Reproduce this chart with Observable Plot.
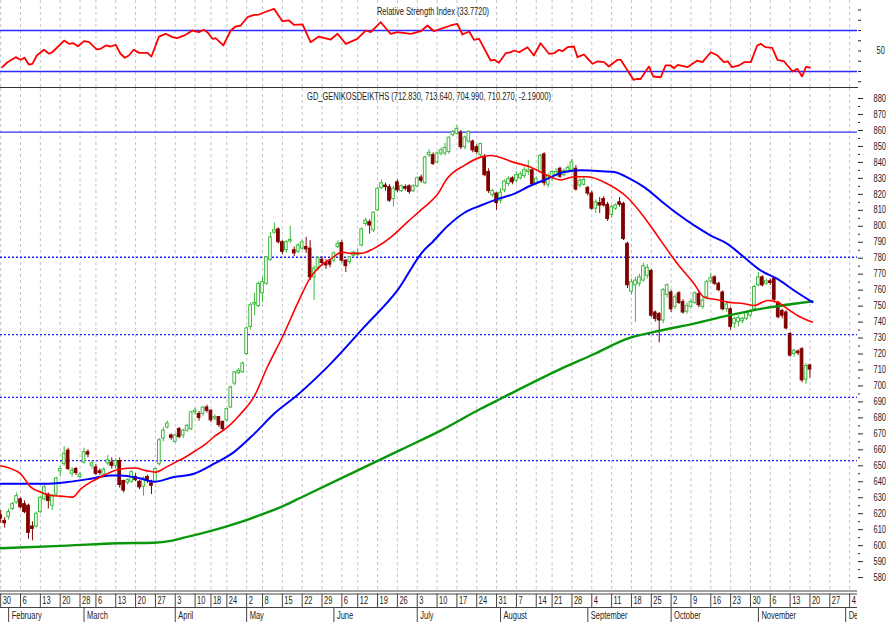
<!DOCTYPE html>
<html><head><meta charset="utf-8">
<script src="https://cdn.jsdelivr.net/npm/d3@7"></script>
<script src="https://cdn.jsdelivr.net/npm/@observablehq/plot@0.6"></script>
<style>
html,body{margin:0;padding:0;background:#fff;}
#chart{width:890px;}
#chart svg{display:block;}
</style></head><body><div id="chart"></div>
<script>
// ---------- data ----------
const rsiTitle = "Relative Strength Index (33.7720)";
const mainTitle = "GD_GENIKOSDEIKTHS (712.830, 713.640, 704.990, 710.270, -2.19000)";

// week ticks (trading-day index) and labels
const weekIdx = [0,5,10,15,20,24,29,34,39,44,49,53,57,62,66,71,76,81,86,90,95,100,105,110,115,120,125,130,135,139,144,149,154,159,164,169,174,179,184,189,194,199,204,209,214];
const weekLbl = ["30","6","13","20","28","6","13","20","27","3","10","18","24","2","8","15","22","29","6","12","19","26","3","10","17","24","31","7","14","21","28","4","11","18","25","2","9","16","23","30","6","13","20","27","4"];
const monthIdx = [2,21,44,62,84,105,126,148,169,191,213];
const monthLbl = ["February","March","April","May","June","July","August","September","October","November","December"];

// daily candles
const open = [
619,615.5,618,623,627,629,626,625,612,612,
621,629,632,625,632,646.5,651,659.5,645,648,
643,652,658.5,650,649,646.5,644.5,651.5,652,650,
653,640.5,639.5,640,643,640,637,643,639,640,
651,667,674,669,665,673,669,672,673,683.5,
682.5,682.5,686.5,684.5,679.5,680.5,677.5,678.5,686.5,701.5,
708,708.5,720,737,751,750,758,764,779,796,
798,790,785,790.5,785,784,786,787,786,768,
774,779,777,778,778.5,787,789.5,778.5,777.5,781.5,
782,788,801.5,802.5,797.5,810,824,825.5,824.5,817,
827.5,822,824.5,825,822,825,830.5,827,844.5,844.5,
840,845.5,845.5,846.5,857,858,858.5,849.5,853,853,
849.5,844.5,843.5,834,819.5,820.5,816,822.5,826.5,830,
828.5,830,831.5,834,835,827,834,845,826,830,
832,836,832,834,835,836,825.5,826,824,820.5,
811,814.5,817,813.5,807,811,815,814,789,759,
763,764,766,769,772,746,745,741,757,758.5,
749.5,758,752.5,746.5,749.5,752,757.5,749.5,755.5,765.5,
768,764,758.5,748,748,739,740,740.5,742,744,
748,763,768,764,765.5,767,751.5,747,746,732.5,
720,721.5,723,704,712.83];
const high = [
622,617.5,623,627,633,630,628,626,615,621,
631,638,633,632,643,650,662,661,649,649,
646,661,660,653,651,648,649,656.5,655,654.5,
655,641,642,647,645,641,643,644,641,649,
667,674,678,670,670,674,673,676,684,686,
684,687,688,685,682,681,678,686,700,709,
711,715,737,752,758,765,768,781,796,802,
799,791,791,800,787,789,791,793,791,775,
781,781,779,779,784,791,791,779,781,784.5,
786,799,805,804,809,824,829,827,826,825,
829,826,826,826,826,831,832,844,848,846,
846.5,849,852,856,860,863,860,856.5,860,854,
851,852,845,836,823,821,823.5,829,831,831,
834,834,837,841,836,831,845,846,833,835,
836,837,836,838,842,838,830,831,825,822,
816.5,818,818.5,815,813,814,818,815,790,767,
768,770,777,776,773,747,746,761,764,760,
757,759,754,752,754,759,759,755,766,770.5,
769,765,759.5,752,749,743,744,743,747,748,
763,771,769,767,767,768,753,748,747,733.5,
723,722.5,724,714,713.64];
const low = [
614,611,616,622,626,623,620,604,603,611,
620,628,623,622,631,643,650,647,643,644,
642,651,655,648,644,644,643,650,648,648,
636,633,638,639,640,635,631,639,632,639,
650,665,673,666,664,667,667,671,672,682,
678,681,683,677,678,674,672,677,686,700,
707,708,719,735,744,749,752,763,778,795,
789,782,783,789,781,783,785,783,766,753.5,
772,775,773,774,777,786,777,771,776,780,
781,787,800,795,796,809,823,822,815,812,
821,821,822,820,821,824,827,826,843,838,
839,844,844,845,856,857,848,848,852,846,
845,843,831,820.5,818,810,814,821,825,826,
827,829,830,832,825,826,833,825,824,828,
831,830,831,833,834,822,824,825,819,810,
808,808,812,803,805,810,812,791,761,757,
740,762,765,767,743,740,727,739,755,746,
748,751,745,745,748,751,749,748,754,764,
763,759,747,746,735,736,737,739,741,743,
747,762,762,763,763,752,742,742,735,718,
718,719,702,701,704.99];
const close = [
617,614,621,626,631,624,621,608,610.5,620,
630,636.5,628,631.5,642,648,657.5,648,647,645.5,
644.5,658.5,657,651.5,645,645.5,647.5,653.5,650,653,
638,634.5,641,646,641,636.5,642,641,637.5,648,
666,672,676.5,667.5,669,668,672,675,683.5,684.5,
680,686.5,684.5,678.5,680.5,675.5,673,685.5,699,708.5,
709.5,714,736,750.5,752,764,765,780.5,793,797.5,
790,784,790,791.5,783,788,790,785.5,768,773.5,
780,777,775.5,776,783,789,778.5,775,780.5,783.5,
783,798,803.5,800.5,808.5,823.5,827,824.5,816,823.5,
822.5,825,823.5,821.5,825,830,828.5,843,846,839,
845.5,847.5,849,855.5,859,861,849.5,855.5,859,847.5,
846.5,851.5,832,822,822,814.5,821,828,829.5,827.5,
832,832.5,835,835,826.5,829.5,844,827,831.5,834,
834,831,834.5,836.5,840,823,828.5,829,820.5,811,
815,813,813,804.5,812,813,813.5,792,763,765,
766,768,775,774,744,742,741,760,763,748,
755.5,752,746,750,752.5,758,750.5,753.5,765,767.5,
764,760,748,751,737,742,742.5,742,746,747,
762,768,763,765.5,764.5,754,743,744,736,719,
722,720.5,703.5,712.46,710.27];

// moving averages (trading-day index, value)
const redDays = [0,5,7.6,10.1,12.6,15.1,18.1,20.2,22.7,25.2,27.7,30.2,34,36.6,39.1,41.6,44.1,46.6,49.2,51.7,54.2,57.1,60.5,63.8,67.2,71.4,74.8,78.1,80.7,83.2,86.1,88.2,90.7,94,98.3,102.5,106.3,110.1,112.6,116.8,121,123.5,129.4,133.6,137.8,141.2,144.5,147.9,152.9,158,162.2,166.4,170.6,174.8,177.3,180.7,183.2,187.4,189.9,193.3,195.8,198.3,201.7,204.6];
const redMA = [650,645,636.7,633.5,631.4,631,630.4,635.6,639.8,643,646,648,648.6,647,646,649,652.3,655.5,659.6,663.8,669,674,682.6,693,711.7,732.7,751.5,768,775.4,779.6,783.8,783,783,786,793,802.6,811,820,830,838,843.3,844.3,840,837,831.8,829,831,831,826.6,818,805.7,791,776.5,764,755.6,754,752.5,751.5,750.4,753.5,752.5,748.3,743,740];
const blueDays = [0,10.9,16.8,22.7,27.7,30.2,35.3,38.6,43.7,48.7,53.8,58.8,63.9,68.9,75.1,83.2,91.6,100,106.7,108.4,112.6,116.8,121,125.2,129.4,133.6,137.8,142,146.2,150.4,154.6,158.8,162.2,166.4,170.6,174.8,179,183.2,187.4,191.6,195.8,200,204.6];
const blueMA = [638.7,638.7,639.8,641.9,644,644,642,640,643,645,651.3,658.6,670,682.6,695,714,736.8,759.8,785,789,800,808.3,813,817,820.3,825.5,829.7,834,835,834.6,834,829.5,824.5,816,807.8,800.5,794.2,789,780.6,772.3,767,759.8,752.5];
const greenDays = [0,16.8,29.4,38.6,42.9,46.2,50.4,54.6,58.8,63,67.2,71.4,75.6,88.2,100.8,110.9,121,126,141.2,149.6,158,166.4,174.8,183.2,191.6,200,204.6];
const greenMA = [598.4,600,601.5,601.8,603,605,607.5,610.3,613.5,617,620.8,625,630,645,660,672,685.7,692,710.7,720,729.6,734.7,739,744,748.3,751.5,753];

// horizontal levels
const peakLevel = [858.9];
const levels = [780.6,732.2,692.9,653.3];

// RSI
const rsiDays = [0.4,1.7,3.8,5.0,6.0,7.1,8.0,9.1,10.9,12.2,13.0,16.0,17.2,18.3,19.5,21.0,22.3,24.2,25.2,26.5,27.7,29.0,30.2,31.3,32.3,33.5,34.9,37.0,38.0,39.9,41.6,43.3,44.5,46.6,48.3,50.0,51.2,52.1,53.4,54.2,56.1,58.0,59.2,60.5,62.2,63.9,65.1,67.2,68.9,71.0,72.7,73.9,76.1,78.1,80.2,83.2,84.9,87.0,89.9,92.0,93.3,95.8,98.3,100.0,103.4,105.9,107.6,109.2,110.9,113.4,115.1,116.4,118.1,119.3,120.6,123.5,124.4,125.6,127.3,128.6,129.4,130.7,132.8,134.4,136.1,138.2,139.5,140.7,141.6,142.9,144.5,145.4,147.0,149.2,150.4,152.1,153.3,155.5,156.3,159.5,160.5,161.3,163.4,164.5,166.4,167.6,168.9,169.7,170.7,173.1,175.6,176.9,179.0,180.7,182.3,183.3,184.4,186.1,187.4,189.1,190.7,191.6,192.8,194.5,195.8,197.5,199.6,200.8,202,203,204];
const rsiVals = [34.2,39,44,41.4,43.4,36.8,37.5,45.6,51.2,47.3,48.8,60.2,57,57.6,54.7,59.6,58.6,51.5,52.1,55.4,54.4,56,47.3,43.4,45.6,51.2,48.2,48.2,44.6,64.1,66.8,63.5,62.5,65.8,70,68.4,70.7,68.4,61.9,62.5,55.4,70,73.9,74.9,83,85.3,85.6,88.8,91.2,79.1,79.8,75.6,75.9,58.6,64.1,61.2,66.8,57,61.9,70,68.4,78.1,66.8,68.4,66.8,69.3,74.9,69.3,71.7,74.9,76.5,66.1,69,60.9,61.9,40.7,41.4,38.5,47.9,48.8,50.5,48.8,53.7,45.6,57.6,47.3,47.9,51.2,49.8,53.7,54.4,44,46.6,37.5,39.8,39.1,34.9,41.4,41.4,21.9,22.9,22.6,34.9,25.1,24.4,35.9,35.9,33.2,36.5,34.2,40.7,39.1,48.8,45.6,39.1,39.8,34.2,35.9,39.1,39.1,55.4,57,53.7,53.1,41.4,39.8,30,32.6,25.1,34.5,33.77];
const rsiBands = [70,30];
const rsiTicks = [20,30,40,50,60,70,80,90];

// ---------- chart ----------
const FONT = "'Liberation Sans Narrow','Arial Narrow','Liberation Sans',Arial,sans-serif";
const X = {type:"linear", domain:[0,215], range:[0.2,853.1], axis:null};
const common = {width:890, marginLeft:0, marginRight:33, marginTop:0,
  style:{fontFamily:FONT, fontSize:"10px", color:"#222", background:"#fff"}};
const GRID = {stroke:"#c4c4c4", strokeDasharray:"3,3", strokeWidth:1};
const UP = "#3cb93c", DN = "#800000";

const candles = open.map((o,i)=>({i, o, h:high[i], l:low[i], c:close[i]}));
const up = candles.filter(d=>d.c>=d.o);
const dn = candles.filter(d=>d.c<d.o);
const HW = 0.34;

const rsiPlot = Plot.plot({
  ...common, height:88, marginBottom:1,
  x: X,
  y: {domain:[13.4,99.3], range:[88,0], axis:null},
  marks:[
    Plot.ruleX(weekIdx, GRID),
    Plot.ruleY(rsiBands, {stroke:"#2b2bff", strokeWidth:1.3}),
    Plot.line(d3.zip(rsiDays, rsiVals), {stroke:"#ff0000", strokeWidth:1.8}),
    Plot.text([rsiTitle], {text:d=>d, frameAnchor:"top", dy:7, dx:4, fill:"#222"}),
    Plot.axisY({anchor:"right", ticks:rsiTicks, tickSize:3, tickPadding:16, tickFormat:d=>d===50?"50":""}),
    Plot.frame({anchor:"bottom", stroke:"#333", strokeWidth:1.2})
  ]
});

const mainPlot = Plot.plot({
  ...common, height:502, marginBottom:0,
  x: X,
  y: {domain:[580,880], range:[489.1,10], axis:null},
  marks:[
    Plot.ruleX(weekIdx, GRID),
    Plot.ruleY(peakLevel, {stroke:"#3030ff", strokeWidth:1.3}),
    Plot.ruleY(levels, {stroke:"#2020ff", strokeWidth:1.3, strokeDasharray:"2,2"}),
    Plot.ruleX(up, {x:"i", y1:"l", y2:"h", stroke:UP}),
    Plot.rect(up, {x1:d=>d.i-HW, x2:d=>d.i+HW, y1:"o", y2:"c", fill:"#fff", stroke:UP}),
    Plot.ruleX(dn, {x:"i", y1:"l", y2:"h", stroke:DN}),
    Plot.rect(dn, {x1:d=>d.i-HW, x2:d=>d.i+HW, y1:"o", y2:"c", fill:DN, stroke:DN}),
    Plot.line(d3.zip(greenDays, greenMA), {curve:"monotone-x", stroke:"#0a960a", strokeWidth:2.4}),
    Plot.line(d3.zip(blueDays, blueMA), {curve:"monotone-x", stroke:"#0000ff", strokeWidth:2}),
    Plot.line(d3.zip(redDays, redMA), {curve:"monotone-x", stroke:"#ff0000", strokeWidth:1.6}),
    Plot.text([mainTitle], {text:d=>d, frameAnchor:"top", dy:4, fill:"#222"}),
    Plot.axisY({anchor:"right", ticks:d3.range(580,881,10), tickSize:5, tickPadding:11, tickFormat:d=>String(d)}),
    Plot.axisY({anchor:"right", ticks:d3.range(585,880,10), tickSize:2, tickFormat:()=>""})
  ]
});

const axisPlot = Plot.plot({
  ...common, height:34, marginBottom:0,
  x: X,
  y: {type:"linear", domain:[0,34], range:[0,34], axis:null},
  marks:[
    Plot.ruleY([0.5,3.5,17], {stroke:"#444", strokeWidth:1}),
    Plot.ruleX(weekIdx, {x:d=>d, y1:3.5, y2:17, stroke:"#444"}),
    Plot.ruleX(monthIdx, {x:d=>d, y1:17, y2:32, stroke:"#444"}),
    Plot.text(weekIdx, {x:d=>d, y:10.5, text:(d,i)=>weekLbl[i], textAnchor:"start", dx:2, fill:"#222", fontSize:10}),
    Plot.text(monthIdx, {x:d=>d, y:25, text:(d,i)=>monthLbl[i], textAnchor:"start", dx:3, fill:"#222", fontSize:10, clip:"frame"})
  ]
});

const host = document.getElementById("chart");
host.append(rsiPlot, mainPlot, axisPlot);

// condense all labels horizontally to match the narrow typeface of the original
host.querySelectorAll("text").forEach(t => {
  const L = t.getComputedTextLength();
  if (L > 0) {
    t.setAttribute("textLength", (L * 0.75).toFixed(1));
    t.setAttribute("lengthAdjust", "spacingAndGlyphs");
  }
});
</script></body></html>
